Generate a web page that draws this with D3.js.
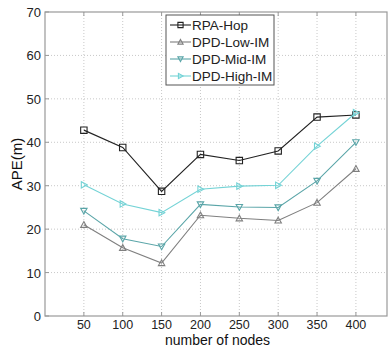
<!DOCTYPE html>
<html>
<head>
<meta charset="utf-8">
<script src="https://cdn.jsdelivr.net/npm/d3@7"></script>
<style>
  body { margin: 0; background: #fff; }
  svg { display: block; font-family: "Liberation Sans", Arial, sans-serif; }
</style>
</head>
<body>
<svg id="chart" width="388" height="349"></svg>
<script>
// data
const nodes = [50, 100, 150, 200, 250, 300, 350, 400];
const rpaHop = [42.8, 38.8, 28.7, 37.2, 35.8, 38.0, 45.8, 46.3];
const dpdLow = [21.0, 15.7, 12.2, 23.2, 22.5, 22.0, 26.1, 33.9];
const dpdMid = [24.2, 17.8, 16.0, 25.7, 25.1, 25.0, 31.1, 40.0];
const dpdHigh = [30.2, 25.8, 23.8, 29.2, 29.9, 30.1, 39.1, 46.8];
const yTicks = [0, 10, 20, 30, 40, 50, 60, 70];

const series = [
  { name: "RPA-Hop", values: rpaHop, color: "#222", marker: "square" },
  { name: "DPD-Low-IM", values: dpdLow, color: "#7f7f7f", marker: "up" },
  { name: "DPD-Mid-IM", values: dpdMid, color: "#5aa5a8", marker: "down" },
  { name: "DPD-High-IM", values: dpdHigh, color: "#74d3d6", marker: "right" }
];

const padL = 45, padR = 387, padT = 12, padB = 316;
const svg = d3.select("#chart");

const x = d3.scaleLinear().domain([0, 440]).range([padL, padR]);
const y = d3.scaleLinear().domain([0, 70]).range([padB, padT]);

// grid
const grid = svg.append("g")
  .attr("stroke", "#c8c8c8").attr("stroke-width", 1)
  .attr("stroke-dasharray", "1,2");
nodes.forEach(v => {
  grid.append("line")
    .attr("x1", x(v)).attr("x2", x(v))
    .attr("y1", padT).attr("y2", padB);
});
yTicks.slice(1, -1).forEach(v => {
  grid.append("line")
    .attr("x1", padL).attr("x2", padR)
    .attr("y1", y(v)).attr("y2", y(v));
});

// axes box
svg.append("rect")
  .attr("x", padL).attr("y", padT)
  .attr("width", padR - padL).attr("height", padB - padT)
  .attr("fill", "none").attr("stroke", "#999").attr("stroke-width", 1.2);

// ticks
const tickG = svg.append("g").attr("stroke", "#999");
nodes.forEach(v => {
  tickG.append("line").attr("x1", x(v)).attr("x2", x(v)).attr("y1", padB).attr("y2", padB - 4);
  tickG.append("line").attr("x1", x(v)).attr("x2", x(v)).attr("y1", padT).attr("y2", padT + 4);
});
yTicks.forEach(v => {
  tickG.append("line").attr("x1", padL).attr("x2", padL + 4).attr("y1", y(v)).attr("y2", y(v));
});

svg.append("g").selectAll("text")
  .data(nodes).join("text")
  .attr("x", d => x(d)).attr("y", padB + 13)
  .attr("text-anchor", "middle")
  .attr("font-size", 12.5).attr("fill", "#222")
  .text(d => d);

svg.append("g").selectAll("text")
  .data(yTicks).join("text")
  .attr("x", padL - 4).attr("y", d => y(d) + 5)
  .attr("text-anchor", "end")
  .attr("font-size", 13).attr("fill", "#222")
  .text(d => d);

// axis labels
svg.append("text")
  .attr("x", x(222)).attr("y", 345)
  .attr("text-anchor", "middle")
  .attr("font-size", 14).attr("fill", "#111")
  .text("number of nodes");

svg.append("text")
  .attr("transform", `translate(22,${y(35)}) rotate(-90)`)
  .attr("text-anchor", "middle")
  .attr("font-size", 15).attr("fill", "#111")
  .text("APE(m)");

// markers
function markerPath(type, s) {
  if (type === "square") return `M${-s},${-s}H${s}V${s}H${-s}Z`;
  if (type === "up") return `M0,${-s}L${s},${s * 0.8}L${-s},${s * 0.8}Z`;
  if (type === "down") return `M0,${s}L${s},${-s * 0.8}L${-s},${-s * 0.8}Z`;
  return `M${s},0L${-s * 0.8},${-s}L${-s * 0.8},${s}Z`;
}

const line = d3.line().x((d, i) => x(nodes[i])).y(d => y(d));

series.forEach(s => {
  svg.append("path")
    .datum(s.values)
    .attr("d", line)
    .attr("fill", "none")
    .attr("stroke", s.color).attr("stroke-width", 1.1);
  svg.append("g").selectAll("path")
    .data(s.values).join("path")
    .attr("transform", (d, i) => `translate(${x(nodes[i])},${y(d)})`)
    .attr("d", markerPath(s.marker, 3.2))
    .attr("fill", "none")
    .attr("stroke", s.color).attr("stroke-width", 1.1);
});

// legend
const lg = svg.append("g").attr("transform", "translate(166,15)");
lg.append("rect")
  .attr("width", 108).attr("height", 70)
  .attr("fill", "#fff").attr("stroke", "#555").attr("stroke-width", 1);
series.forEach((s, i) => {
  const cy = 10 + i * 17;
  lg.append("line")
    .attr("x1", 4).attr("x2", 25).attr("y1", cy).attr("y2", cy)
    .attr("stroke", s.color).attr("stroke-width", 1.1);
  lg.append("path")
    .attr("transform", `translate(14.5,${cy})`)
    .attr("d", markerPath(s.marker, 2.6))
    .attr("fill", "none").attr("stroke", s.color).attr("stroke-width", 1.1);
  lg.append("text")
    .attr("x", 26).attr("y", cy + 5)
    .attr("font-size", 13.5).attr("fill", "#222")
    .text(s.name);
});
</script>
</body>
</html>
